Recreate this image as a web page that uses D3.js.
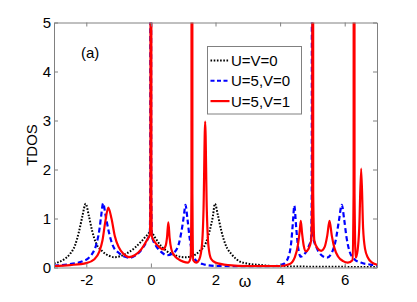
<!DOCTYPE html>
<html>
<head>
  <meta charset="utf-8">
  <title>TDOS</title>
  <style>
  body { margin: 0; background: #fff; }
  text { font-family: "Liberation Sans", Arial, sans-serif; }
  </style>
</head>
<body>
  <svg width="417" height="302"></svg>
  <script src="https://d3js.org/d3.v7.min.js"></script>
  <script>
  // series: [omega, TDOS]
  var dosUV0 = [
    [-3, 0.085], [-2.7, 0.16], [-2.5, 0.28], [-2.35, 0.45], [-2.22, 0.75], [-2.12, 1.05], [-2.02, 1.30],
    [-1.92, 1.05], [-1.82, 0.75], [-1.7, 0.5], [-1.5, 0.33], [-1.3, 0.24], [-1.13, 0.21], [-0.95, 0.23],
    [-0.75, 0.29], [-0.5, 0.4], [-0.3, 0.53], [-0.12, 0.66], [0, 0.73], [0.12, 0.62], [0.3, 0.45],
    [0.5, 0.33], [0.75, 0.25], [1.05, 0.21], [1.3, 0.24], [1.5, 0.33], [1.7, 0.5], [1.82, 0.75],
    [1.92, 1.05], [1.98, 1.30], [2.08, 1.05], [2.18, 0.75], [2.32, 0.45], [2.5, 0.27], [2.76, 0.12],
    [3, 0.08], [3.4, 0.05], [3.8, 0.03], [4.5, 0.02], [5.5, 0.015], [7, 0.01]
  ];
  var dosU5V0 = [
    [-3, 0.04], [-2.5, 0.07], [-2.1, 0.13], [-1.85, 0.25], [-1.7, 0.45], [-1.6, 0.75], [-1.54, 1.05],
    [-1.48, 1.31], [-1.4, 1.05], [-1.3, 0.72], [-1.18, 0.45], [-1.0, 0.3], [-0.8, 0.22], [-0.65, 0.2],
    [-0.45, 0.26], [-0.25, 0.4], [-0.1, 0.58], [-0.035, 0.7], [-0.02, 1.5], [-0.005, 40], [0.01, 1.5],
    [0.03, 0.64], [0.15, 0.45], [0.3, 0.33], [0.5, 0.25], [0.7, 0.3], [0.85, 0.45], [0.95, 0.75],
    [1.02, 1.05], [1.07, 1.28], [1.13, 1.0], [1.2, 0.6], [1.28, 0.3], [1.4, 0.14], [1.6, 0.07],
    [2, 0.03], [3, 0.02], [3.8, 0.025], [4.1, 0.07], [4.25, 0.2], [4.35, 0.55], [4.4, 0.95], [4.44, 1.26],
    [4.5, 0.8], [4.56, 0.4], [4.64, 0.22], [4.75, 0.27], [4.88, 0.42], [4.96, 0.6], [4.98, 1.5],
    [4.995, 40], [5.01, 1.5], [5.03, 0.6], [5.12, 0.42], [5.25, 0.27], [5.45, 0.2], [5.6, 0.3],
    [5.72, 0.55], [5.82, 0.95], [5.91, 1.28], [5.98, 1.0], [6.06, 0.6], [6.15, 0.33], [6.3, 0.17],
    [6.5, 0.1], [6.8, 0.06], [7, 0.04]
  ];
  var dosU5V1 = [
    [-3, 0.03], [-2.5, 0.05], [-2.0, 0.09], [-1.75, 0.17], [-1.6, 0.32], [-1.5, 0.55], [-1.42, 0.9],
    [-1.32, 1.22], [-1.22, 1.0], [-1.12, 0.65], [-1.0, 0.42], [-0.85, 0.28], [-0.68, 0.21],
    [-0.5, 0.25], [-0.3, 0.37], [-0.12, 0.56], [-0.03, 0.68], [-0.015, 1.5], [0, 40], [0.015, 1.5],
    [0.03, 0.64], [0.12, 0.52], [0.25, 0.42], [0.38, 0.37], [0.46, 0.45], [0.5, 0.62], [0.54, 0.92],
    [0.58, 0.6], [0.63, 0.38], [0.72, 0.25], [0.85, 0.17], [1.0, 0.12], [1.15, 0.1], [1.23, 0.2],
    [1.255, 1.5], [1.27, 40], [1.285, 1.5], [1.31, 0.15], [1.4, 0.1], [1.5, 0.17], [1.58, 0.45],
    [1.63, 1.2], [1.68, 2.98], [1.73, 1.2], [1.78, 0.45], [1.86, 0.18], [2.0, 0.1], [2.4, 0.05],
    [3, 0.03], [4, 0.03], [4.3, 0.07], [4.45, 0.2], [4.55, 0.45], [4.6, 0.7], [4.64, 0.95],
    [4.68, 0.7], [4.73, 0.45], [4.8, 0.33], [4.88, 0.38], [4.96, 0.55], [4.995, 1.5], [5.01, 40],
    [5.025, 1.5], [5.06, 0.55], [5.15, 0.4], [5.27, 0.34], [5.38, 0.42], [5.46, 0.65], [5.53, 0.95],
    [5.6, 0.65], [5.68, 0.4], [5.8, 0.22], [5.95, 0.13], [6.1, 0.1], [6.24, 0.15], [6.275, 1.5],
    [6.29, 40], [6.305, 1.5], [6.34, 0.2], [6.4, 0.35], [6.45, 0.8], [6.51, 2.02], [6.57, 0.8],
    [6.63, 0.38], [6.72, 0.2], [6.85, 0.1], [7, 0.06]
  ];

  var xTicks = [-2, 0, 2, 4, 6];
  var yTicks = [0, 1, 2, 3, 4, 5];
  var legendLabels = ["U=V=0", "U=5,V=0", "U=5,V=1"];

  var svg = d3.select("svg"),
      pLeft = 54, pRight = 377, pTop = 22.5, pBottom = 267.5;

  var x = d3.scaleLinear().domain([-3, 7]).range([pLeft, pRight]);
  var y = d3.scaleLinear().domain([0, 5]).range([pBottom, pTop]);

  svg.append("clipPath").attr("id", "clip")
    .append("rect")
    .attr("x", pLeft).attr("y", pTop)
    .attr("width", pRight - pLeft).attr("height", pBottom - pTop);

  var line = d3.line()
    .x(function(d) { return x(d[0]); })
    .y(function(d) { return y(d[1]); })
    .curve(d3.curveMonotoneX);

  var styles = [
    {data: dosUV0, color: "#000", dash: "1.6,1.6", width: 2},
    {data: dosU5V0, color: "#0000ff", dash: "5,3", width: 2.2},
    {data: dosU5V1, color: "#ff0000", dash: null, width: 2.2}
  ];

  var plot = svg.append("g").attr("clip-path", "url(#clip)");
  styles.forEach(function(s) {
    plot.append("path")
      .datum(s.data)
      .attr("fill", "none")
      .attr("stroke", s.color)
      .attr("stroke-width", s.width)
      .attr("stroke-dasharray", s.dash)
      .attr("d", line);
  });

  // box axes, ticks on all sides pointing in
  var axisColor = "#808080";
  var tickLen = 4;
  var fmt = function(d) { return String(d); };
  function styleAxis(g) {
    g.selectAll(".domain").attr("stroke", axisColor);
    g.selectAll(".tick line").attr("stroke", axisColor);
    g.selectAll(".tick text").attr("fill", "#000").style("font-size", "15px")
      .style("font-family", "'Liberation Sans', Arial, sans-serif");
  }

  svg.append("g")
    .attr("transform", "translate(0," + pBottom + ")")
    .call(d3.axisBottom(x).tickValues(xTicks).tickFormat(fmt).tickSizeInner(-tickLen).tickSizeOuter(0).tickPadding(7))
    .call(styleAxis);
  svg.append("g")
    .attr("transform", "translate(0," + pTop + ")")
    .call(d3.axisTop(x).tickValues(xTicks).tickSizeInner(-tickLen).tickSizeOuter(0).tickFormat(""))
    .call(styleAxis);
  svg.append("g")
    .attr("transform", "translate(" + pLeft + ",0)")
    .call(d3.axisLeft(y).tickValues(yTicks).tickFormat(fmt).tickSizeInner(-tickLen).tickSizeOuter(0).tickPadding(3))
    .call(styleAxis);
  svg.append("g")
    .attr("transform", "translate(" + pRight + ",0)")
    .call(d3.axisRight(y).tickValues(yTicks).tickSizeInner(-tickLen).tickSizeOuter(0).tickFormat(""))
    .call(styleAxis);

  // axis labels
  svg.append("text")
    .attr("x", 245).attr("y", 287)
    .attr("text-anchor", "middle")
    .style("font-size", "16px")
    .text("ω");
  svg.append("text")
    .attr("transform", "translate(37,145) rotate(-90)")
    .attr("text-anchor", "middle")
    .style("font-size", "15px")
    .text("TDOS");
  svg.append("text")
    .attr("x", 81).attr("y", 58)
    .style("font-size", "15px")
    .text("(a)");

  // legend
  var lg = svg.append("g");
  lg.append("rect")
    .attr("x", 207.5).attr("y", 46.5)
    .attr("width", 94).attr("height", 67.5)
    .attr("fill", "#fff")
    .attr("stroke", axisColor);
  styles.forEach(function(s, i) {
    var ly = 60.5 + i * 20.3;
    lg.append("line")
      .attr("x1", 210.5).attr("x2", 229.5)
      .attr("y1", ly).attr("y2", ly)
      .attr("stroke", s.color)
      .attr("stroke-width", i === 2 ? 2.2 : 2)
      .attr("stroke-dasharray", i === 0 ? "1.6,1.6" : (i === 1 ? "4,2.5" : null));
    lg.append("text")
      .attr("x", 231).attr("y", ly + 5.5)
      .style("font-size", "15px")
      .text(legendLabels[i]);
  });
  </script>
</body>
</html>
